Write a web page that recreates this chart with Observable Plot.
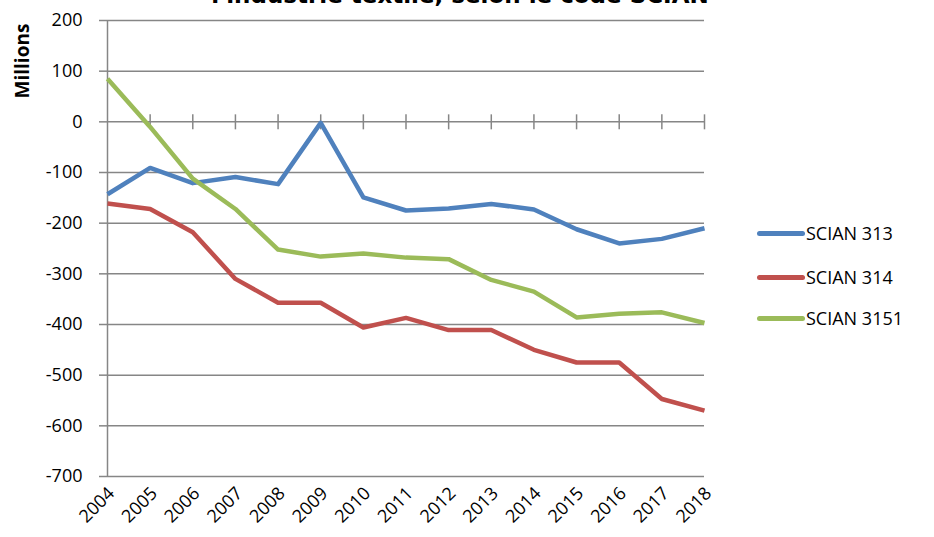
<!DOCTYPE html>
<html>
<head>
<meta charset="utf-8">
<script src="https://cdn.jsdelivr.net/npm/d3@7"></script>
<script src="https://cdn.jsdelivr.net/npm/@observablehq/plot@0.6"></script>
<style>
  html, body { margin: 0; padding: 0; background: #fff; overflow: hidden; }
  #wrap { position: relative; width: 934px; height: 537px; }
  #title { position: absolute; left: 0; width: 920px; top: -16px; text-align: center;
           font-family: "DejaVu Sans", sans-serif; font-weight: bold; font-size: 23px; line-height: 22px; color: #000; white-space: nowrap; }
  #chart { position: absolute; left: 0; top: 0; }
  .leg { position: absolute; left: 757px; display: flex; align-items: center; font-family: "Open Sans", sans-serif; font-size: 18px; color: #000; }
  .leg span.sw { display: inline-block; width: 48px; height: 5px; border-radius: 3px; margin-right: 1px; }
</style>
</head>
<body>
<div id="wrap">
  <div id="chart"></div>
  <div id="title">l'industrie textile, selon le code SCIAN</div>
  <div id="legend"></div>
</div>
<script>
const years = [2004, 2005, 2006, 2007, 2008, 2009, 2010, 2011, 2012, 2013, 2014, 2015, 2016, 2017, 2018];
const seriesNames = ["SCIAN 313", "SCIAN 314", "SCIAN 3151"];
const scian313 = [-143, -91, -121, -109, -123, -2, -149, -175, -171, -162, -173, -212, -240, -231, -210];
const scian314 = [-161, -172, -218, -310, -357, -357, -406, -387, -411, -411, -450, -475, -475, -547, -570];
const scian3151 = [85, -10, -112, -172, -252, -266, -260, -268, -271, -312, -335, -386, -379, -376, -397];
const colors = ["#4F81BD", "#C0504D", "#9BBB59"];
const yTicks = [200, 100, 0, -100, -200, -300, -400, -500, -600, -700];
const yLabel = "Millions";

const seriesValues = [scian313, scian314, scian3151];
const data = seriesNames.flatMap((name, s) => years.map((yr, i) => ({series: name, year: yr, value: seriesValues[s][i]})));

const grid = "#868686";
const chart = Plot.plot({
  width: 934,
  height: 537,
  marginLeft: 107,
  marginRight: 230,
  marginTop: 20,
  marginBottom: 61,
  style: {fontFamily: "Open Sans, sans-serif", fontSize: "18px", color: "#000", background: "transparent"},
  x: {type: "linear", domain: [2004, 2018]},
  y: {domain: [-700, 200]},
  color: {domain: seriesNames, range: colors},
  marks: [
    Plot.ruleY(yTicks, {y: d => d, x1: years[0], x2: years[years.length - 1], stroke: grid, strokeWidth: 1.5}),
    Plot.ruleX([years[0]], {x: d => d, y1: -700, y2: 200, stroke: grid, strokeWidth: 1.5}),
    Plot.ruleX(years.slice(1), {x: d => d, y1: 0, y2: 0, insetTop: -7, insetBottom: -8, stroke: grid, strokeWidth: 1.5}),
    Plot.axisY({ticks: yTicks, tickSize: 8, tickPadding: 17, stroke: grid, strokeWidth: 1.5, label: null, tickFormat: d => String(d).replace("−", "-"), fontSize: 18}),
    Plot.axisX({ticks: years, tickSize: 0, tickRotate: -45, tickPadding: 14, tickFormat: d => String(d), label: null, fontSize: 18, dx: 4}),
    Plot.line(data, {x: "year", y: "value", z: "series", stroke: "series", strokeWidth: 4.5, strokeLinejoin: "round", strokeLinecap: "butt"}),
    Plot.text([yLabel], {frameAnchor: "left", text: d => d, rotate: -90, textAnchor: "middle", dx: -85, y: () => 120, fontWeight: "bold", fontSize: 19, fill: "#000"})
  ]
});
document.getElementById("chart").appendChild(chart);

const legendTop = [233, 277, 318];
const legend = document.getElementById("legend");
seriesNames.forEach((name, i) => {
  const d = document.createElement("div");
  d.className = "leg";
  d.style.top = (legendTop[i] - 13) + "px";
  d.style.height = "26px";
  d.innerHTML = `<span class="sw" style="background:${colors[i]}"></span>${name}`;
  legend.appendChild(d);
});
</script>
</body>
</html>
